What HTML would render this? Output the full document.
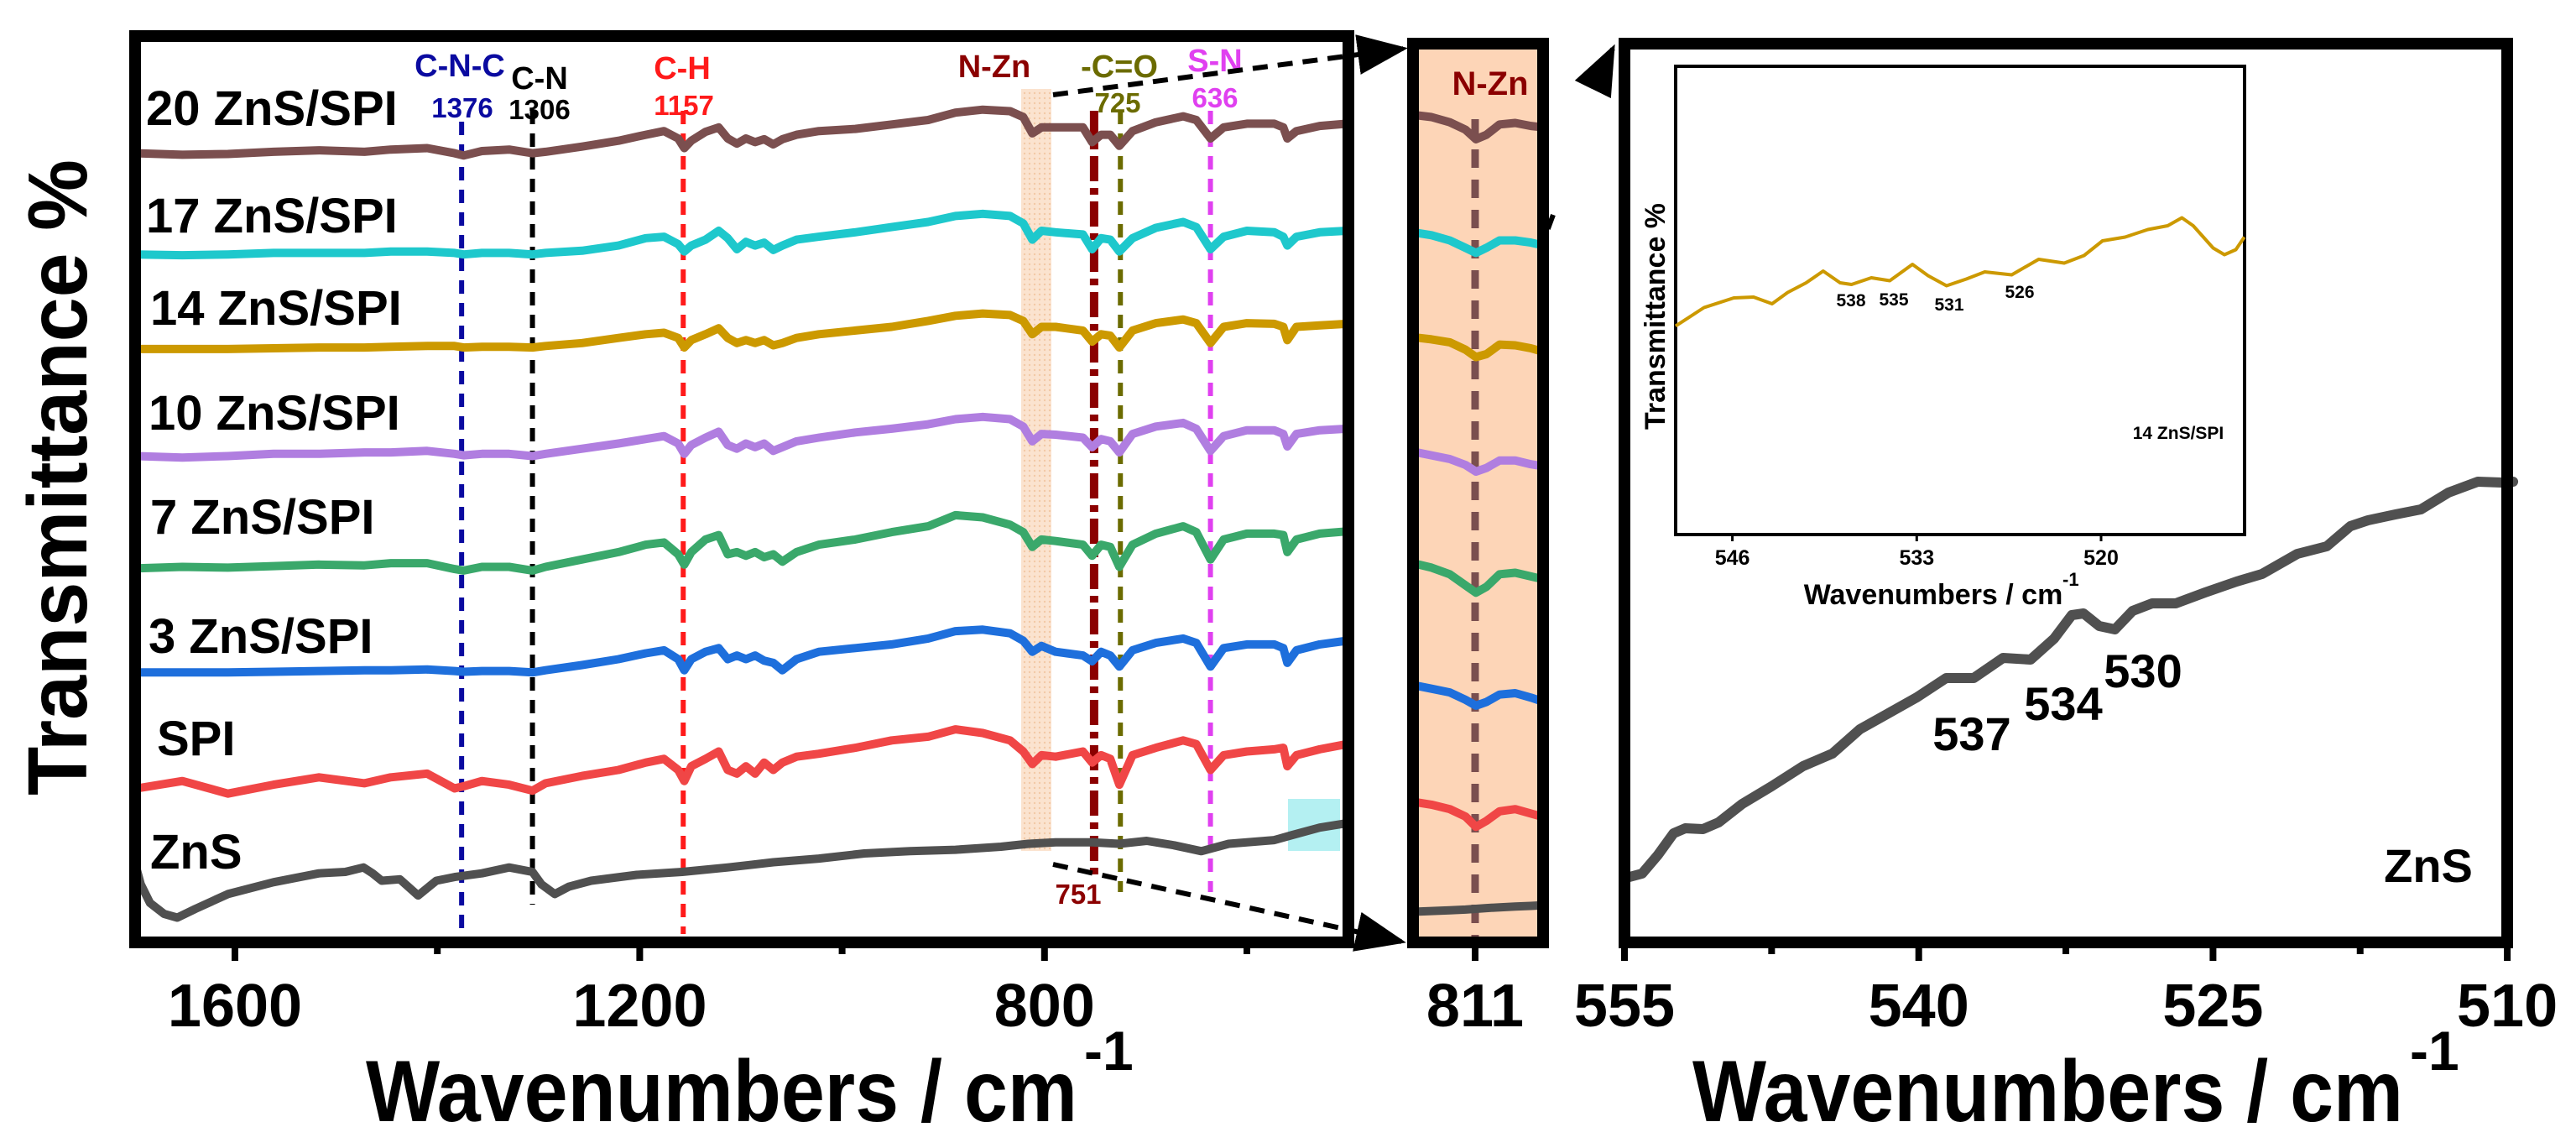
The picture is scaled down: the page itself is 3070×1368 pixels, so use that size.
<!DOCTYPE html>
<html><head><meta charset="utf-8"><style>
html,body{margin:0;padding:0;background:#fff;}
svg{display:block;font-family:"Liberation Sans",Arial,sans-serif;font-weight:bold;}
</style></head><body>
<svg id="fig" width="3070" height="1368" viewBox="0 0 3070 1368" xmlns="http://www.w3.org/2000/svg">
<defs>
<pattern id="dots" width="6" height="6" patternUnits="userSpaceOnUse"><rect width="6" height="6" fill="#fbe3cf"/><circle cx="3" cy="3" r="1.2" fill="#f3c9a6"/></pattern>
<marker id="arr" markerWidth="10" markerHeight="8" refX="9" refY="4" orient="auto" markerUnits="strokeWidth"><path d="M0,0 L10,4 L0,8 z" fill="#000"/></marker>
</defs>
<g id="main">
<rect x="1217" y="106" width="36" height="908" fill="url(#dots)"/>
<rect x="1535" y="952" width="62" height="62" fill="#b4f0f2"/>
<g id="markers"></g>
<g id="mainSeries"></g>
<rect x="161" y="43" width="1446" height="1080" fill="none" stroke="#000" stroke-width="14"/>
<g id="mainTicks"></g>
<text x="548" y="91" font-size="38" fill="#0a0aa0" text-anchor="middle">C-N-C</text>
<text x="551" y="140" font-size="33" fill="#0a0aa0" text-anchor="middle">1376</text>
<text x="643" y="106" font-size="38" fill="#000" text-anchor="middle">C-N</text>
<text x="643" y="142" font-size="33" fill="#000" text-anchor="middle">1306</text>
<text x="813" y="94" font-size="38" fill="#ff1a1a" text-anchor="middle">C-H</text>
<text x="815" y="137" font-size="33" fill="#ff1a1a" text-anchor="middle">1157</text>
<text x="1185" y="92" font-size="38" fill="#8b0000" text-anchor="middle">N-Zn</text>
<text x="1334" y="92" font-size="38" fill="#6b6b00" text-anchor="middle">-C=O</text>
<text x="1332" y="134" font-size="33" fill="#6b6b00" text-anchor="middle">725</text>
<text x="1448" y="85" font-size="38" fill="#e040f0" text-anchor="middle">S-N</text>
<text x="1448" y="128" font-size="33" fill="#e040f0" text-anchor="middle">636</text>
<text x="1285" y="1077" font-size="33" fill="#8b0000" text-anchor="middle">751</text>
<g font-size="58" fill="#000">
<text x="174" y="149">20 ZnS/SPI</text>
<text x="174" y="277">17 ZnS/SPI</text>
<text x="179" y="387">14 ZnS/SPI</text>
<text x="177" y="512">10 ZnS/SPI</text>
<text x="179" y="636">7 ZnS/SPI</text>
<text x="177" y="778">3 ZnS/SPI</text>
<text x="187" y="900">SPI</text>
<text x="179" y="1035">ZnS</text>
</g>
<text x="436" y="1336" font-size="104" textLength="848" lengthAdjust="spacingAndGlyphs">Wavenumbers / cm</text>
<text x="1292" y="1275" font-size="66">-1</text>
<text transform="translate(103,569) rotate(-90)" font-size="100" text-anchor="middle" textLength="758" lengthAdjust="spacingAndGlyphs">Transmittance %</text>
</g>
<g stroke="#000" stroke-width="6" stroke-dasharray="18,12" fill="none">
<line x1="1255" y1="113" x2="1672" y2="58" marker-end="url(#arr)"/>
<line x1="1255" y1="1030" x2="1670" y2="1122" marker-end="url(#arr)"/>
<line x1="1851" y1="256" x2="1691" y2="690"/>
</g>
<line x1="1900" y1="103" x2="1922" y2="58" stroke="#000" stroke-width="6" marker-end="url(#arr)"/>
<g id="mid">
<rect x="1684" y="52" width="155" height="1071" fill="#fdd5b7"/>
<line x1="1758" y1="142" x2="1758" y2="1118" stroke="#7a4f4f" stroke-width="9" stroke-dasharray="22,14"/>
<g id="midSeries"></g>
<rect x="1684" y="52" width="155" height="1071" fill="none" stroke="#000" stroke-width="14"/>
<text x="1776" y="113" font-size="40" fill="#8b0000" text-anchor="middle">N-Zn</text>
<line x1="1758" y1="1130" x2="1758" y2="1145" stroke="#000" stroke-width="8"/>
<text x="1758" y="1223" font-size="72" text-anchor="middle">811</text>
</g>
<g id="right">
<g id="rightSeries"></g>
<rect x="1936" y="52" width="1052" height="1071" fill="none" stroke="#000" stroke-width="14"/>
<g id="rightTicks"></g>
<text x="2350" y="894" font-size="56" text-anchor="middle">537</text>
<text x="2459" y="858" font-size="56" text-anchor="middle">534</text>
<text x="2554" y="819" font-size="56" text-anchor="middle">530</text>
<text x="2894" y="1051" font-size="56" text-anchor="middle">ZnS</text>
<text x="2017" y="1336" font-size="104" textLength="847" lengthAdjust="spacingAndGlyphs">Wavenumbers / cm</text>
<text x="2872" y="1275" font-size="66">-1</text>
<g id="inset">
<rect x="1997" y="79" width="678" height="558" fill="#fff" stroke="#000" stroke-width="4"/>
<g id="insetSeries"></g>
<g id="insetTicks"></g>
<text x="2206" y="365" font-size="21" text-anchor="middle">538</text>
<text x="2257" y="364" font-size="21" text-anchor="middle">535</text>
<text x="2323" y="370" font-size="21" text-anchor="middle">531</text>
<text x="2407" y="355" font-size="21" text-anchor="middle">526</text>
<text x="2596" y="523" font-size="21" text-anchor="middle">14 ZnS/SPI</text>
<text x="2304" y="720" font-size="34" text-anchor="middle">Wavenumbers / cm</text>
<text x="2458" y="698" font-size="22">-1</text>
<text transform="translate(1984,377) rotate(-90)" font-size="34" text-anchor="middle" textLength="270" lengthAdjust="spacingAndGlyphs">Transmittance %</text>
</g>
</g>
</svg>
<script>
const mainWn=[1697,1652,1607,1562,1517,1472,1446,1410,1383,1374,1356,1329,1306,1293,1257,1221,1194,1176,1162,1156,1149,1135,1122,1113,1104,1095,1086,1077,1068,1059,1045,1023,987,951,915,888,861,834,821,812,803,789,762,753,744,735,726,713,690,663,650,636,623,600,573,564,560,551,528,501];
const t20=[107.7,107.5,107.6,107.9,108.1,107.9,108.2,108.4,107.7,107.4,108.0,108.2,107.7,107.9,108.6,109.4,110.2,110.7,109.7,108.4,109.4,110.6,111.2,109.7,109.0,109.7,109.2,109.6,108.9,109.6,110.2,110.7,111.0,111.6,112.2,113.2,113.6,113.4,112.6,110.4,111.2,111.2,111.2,109.2,110.2,110.2,108.7,110.7,111.9,112.7,112.2,109.7,111.2,111.7,111.7,111.2,109.7,110.7,111.4,111.7];
const t17=[94.0,93.9,94.0,94.2,94.2,94.2,94.4,94.4,94.2,94.0,94.2,94.2,94.0,94.2,94.5,95.2,96.2,96.4,95.4,94.4,95.2,96.0,97.2,96.2,94.7,95.7,95.2,95.6,94.6,95.2,96.0,96.4,97.0,97.7,98.4,99.2,99.5,99.2,98.2,96.0,97.2,97.0,96.7,94.7,96.2,96.0,94.4,96.2,97.6,98.4,97.7,94.7,96.4,97.2,97.0,96.4,95.2,96.4,97.0,97.2];
const t14=[81.2,81.2,81.2,81.3,81.4,81.4,81.5,81.6,81.6,81.4,81.5,81.5,81.4,81.6,82.0,82.7,83.2,83.4,82.7,81.4,82.4,83.2,84.0,82.7,82.0,82.4,82.0,82.4,81.7,82.0,82.7,83.2,83.7,84.2,85.0,85.7,86.0,85.8,85.0,83.2,84.2,84.2,83.7,82.2,83.2,83.0,81.4,83.7,84.7,85.2,84.7,82.0,84.2,84.7,84.6,84.2,82.4,84.2,84.4,84.6];
const t10=[66.7,66.5,66.7,67.0,67.0,67.2,67.2,67.4,67.0,66.8,67.0,67.0,66.7,67.0,67.7,68.4,69.0,69.4,68.4,67.0,68.2,69.2,70.0,68.2,67.7,68.4,67.9,68.4,67.4,67.9,68.7,69.2,69.9,70.4,71.0,71.7,72.0,71.7,70.7,68.7,69.7,69.6,69.2,67.9,69.0,68.7,67.2,69.7,70.7,71.2,70.4,67.4,69.4,70.2,70.2,69.7,68.0,69.7,70.2,70.4];
const t7=[51.5,51.7,51.6,51.8,52.0,51.9,52.2,52.2,51.4,51.2,51.7,51.7,51.2,51.7,52.7,53.7,54.7,55.0,53.4,52.0,53.7,55.4,56.0,53.4,53.7,53.2,53.7,53.0,53.4,52.4,53.7,54.7,55.4,56.4,57.2,58.7,58.4,57.4,56.4,54.4,55.4,55.2,54.7,53.2,54.7,54.4,51.7,54.7,56.2,57.2,56.4,52.7,55.4,56.2,56.2,56.0,53.7,55.4,56.2,56.5];
const t3=[37.4,37.4,37.4,37.5,37.6,37.7,37.7,37.8,37.6,37.5,37.6,37.6,37.4,37.7,38.4,39.2,40.0,40.4,39.2,37.7,39.2,40.2,40.7,39.2,39.7,39.2,39.7,39.0,38.7,37.7,39.2,40.2,40.7,41.2,42.0,43.0,43.2,42.7,41.7,40.2,41.0,40.2,39.7,38.9,40.2,39.7,38.2,40.4,41.4,42.0,41.4,38.2,40.7,41.2,41.2,40.7,38.7,40.4,41.2,41.7];
const tSPI=[21.7,22.7,21.0,22.2,23.2,22.4,23.2,23.7,21.7,22.0,22.7,22.2,21.4,22.4,23.4,24.2,25.2,25.7,24.2,22.7,24.7,25.7,26.7,24.2,23.7,24.7,23.7,25.2,24.2,25.2,26.0,26.4,27.2,28.2,28.7,29.7,29.2,28.2,26.7,25.0,26.2,26.0,26.7,25.2,26.2,25.7,22.2,26.2,27.2,28.2,27.7,24.2,26.2,26.7,27.0,27.2,24.7,26.2,27.0,27.7];
const znsWn=[1699,1693,1684,1670,1657,1639,1607,1562,1517,1491,1473,1464,1455,1437,1419,1401,1383,1356,1329,1306,1297,1284,1270,1248,1203,1158,1113,1068,1023,978,933,888,843,816,789,753,726,699,672,645,618,573,555,528,501];
const tZnS=[11.7,8.7,6.2,4.7,4.2,5.4,7.4,9.0,10.2,10.4,11.0,10.2,9.2,9.4,7.2,9.2,9.7,10.2,11.0,10.4,8.7,7.4,8.4,9.2,10.0,10.4,11.0,11.7,12.2,12.9,13.2,13.4,13.8,14.2,14.4,14.4,14.2,14.6,14.0,13.2,14.2,14.7,15.4,16.4,17.0];
const markerWn=[1376,1306,1157,751,725,636];
const mainTickVals=[1600,1200,800];
const mainMinorVals=[1400,1000,600];
const midWn=[835,828,821,815,811,807,802,796,790,785];
const m20=[112.9,112.6,111.9,110.9,109.6,110.2,111.6,111.8,111.4,111.2];
const m17=[97.0,96.6,95.9,94.9,94.2,94.9,95.9,95.9,95.6,95.2];
const m14=[82.8,82.5,82.1,81.1,80.1,80.5,81.8,81.7,81.3,80.8];
const m10=[67.3,66.8,66.3,65.5,64.6,65.1,66.1,66.1,65.6,65.3];
const m7=[52.2,51.6,50.7,49.2,48.2,49.0,50.7,50.9,50.4,50.0];
const m3=[35.7,35.2,34.7,33.7,32.9,33.4,34.4,34.6,34.0,33.4];
const mSPI=[19.9,19.5,18.9,17.9,16.5,17.3,18.6,18.9,18.3,17.8];
const mZnS=[5.0,5.1,5.2,5.3,5.4,5.5,5.6,5.7,5.8,5.9];
const rightWn=[554.9,554.1,553.3,552.5,551.9,551.0,550.2,549.0,547.5,545.9,544.4,543.0,541.7,540.1,538.6,537.2,535.7,534.3,533.1,532.2,531.6,530.8,530.0,529.1,528.1,526.9,525.4,523.8,522.5,520.7,519.2,518.0,517.1,515.7,514.4,513.0,511.5,510.3,509.7];
const rightT=[8.4,8.9,11.1,13.7,14.3,14.2,15.0,17.2,19.3,21.7,23.2,26.1,27.8,29.9,32.2,32.2,34.6,34.4,36.9,39.7,39.9,38.4,38.0,40.2,41.1,41.1,42.4,43.7,44.6,47.0,47.9,50.3,51.0,51.7,52.3,54.3,55.6,55.5,55.6];
const rightTickVals=[555,540,525,510];
const rightMinorVals=[547.5,532.5,517.5];
const insetWn=[550.0,548.0,545.9,544.5,543.2,542.1,540.8,539.6,538.4,537.6,536.2,534.9,533.3,532.2,530.9,529.5,528.2,526.3,524.4,522.6,521.2,519.9,518.3,516.7,515.3,514.3,513.5,512.1,511.3,510.5,509.9];
const insetT=[49.7,54.1,56.4,56.6,55.0,57.7,60.0,62.8,60.0,59.6,61.2,60.5,64.4,61.7,59.3,60.9,62.6,61.9,65.6,64.7,66.5,70.0,70.9,72.7,73.6,75.5,73.6,68.3,66.7,67.9,70.9];
const insetTickVals=[546,533,520];

const NS='http://www.w3.org/2000/svg';
const xMain=w=>280+(1600-w)*1.206;
const yMain=t=>1130.5-t*8.801;
const xMid=w=>1759-(w-811)*3.12;
const xR=w=>1936+(555-w)*23.38;
const yR=t=>1130-t*10;
const xI=w=>1997+(550-w)*16.9;
const yI=t=>637-t*5;
function mk(tag,parent){const e=document.createElementNS(NS,tag);parent.appendChild(e);return e;}
function pathD(xs,ys,fx,fy){return xs.map((w,i)=>(i?'L':'M')+fx(w).toFixed(1)+','+fy(ys[i]).toFixed(1)).join(' ');}

const seriesList=[[t20,m20,'#7b4f4f','20-zns-spi'],[t17,m17,'#1ec8cc','17-zns-spi'],[t14,m14,'#cc9900','14-zns-spi'],[t10,m10,'#b07ee0','10-zns-spi'],[t7,m7,'#3aa86b','7-zns-spi'],[t3,m3,'#1e6fdc','3-zns-spi'],[tSPI,mSPI,'#f04646','spi']];

const mg=document.getElementById('markers');
const mStyle=[['#0a0aa0',145,1115,'16,11',6],['#000',132,1078,'16,11',6],['#ff1a1a',132,1113,'16,11',6],['#8b0000',132,1049,'30,8,8,8',10],['#6b6b00',132,1063,'16,11',6],['#e040f0',132,1063,'16,11',6]];
markerWn.forEach((w,i)=>{const s=mStyle[i];const l=mk('line',mg);


l.setAttribute('x1',xMain(w));l.setAttribute('x2',xMain(w));l.setAttribute('y1',s[1]);l.setAttribute('y2',s[2]);
l.setAttribute('stroke',s[0]);l.setAttribute('stroke-width',s[4]);l.setAttribute('stroke-dasharray',s[3]);});

const ms=document.getElementById('mainSeries');
const zp=mk('path',ms);


zp.setAttribute('d',pathD(znsWn,tZnS,xMain,yMain));zp.setAttribute('fill','none');zp.setAttribute('stroke','#505050');zp.setAttribute('stroke-width','10');zp.setAttribute('stroke-linejoin','round');zp.setAttribute('stroke-linecap','round');
seriesList.forEach(s=>{const p=mk('path',ms);


p.setAttribute('d',pathD(mainWn,s[0],xMain,yMain));p.setAttribute('fill','none');p.setAttribute('stroke',s[2]);p.setAttribute('stroke-width','10');p.setAttribute('stroke-linejoin','round');});

const mt=document.getElementById('mainTicks');
mainTickVals.forEach(v=>{const l=mk('line',mt);


l.setAttribute('x1',xMain(v));l.setAttribute('x2',xMain(v));l.setAttribute('y1',1128);l.setAttribute('y2',1145);l.setAttribute('stroke','#000');l.setAttribute('stroke-width',8);
const t=mk('text',mt);


t.setAttribute('x',xMain(v));t.setAttribute('y',1223);t.setAttribute('font-size',72);t.setAttribute('text-anchor','middle');t.textContent=v;});
mainMinorVals.forEach(v=>{const l=mk('line',mt);


l.setAttribute('x1',xMain(v));l.setAttribute('x2',xMain(v));l.setAttribute('y1',1128);l.setAttribute('y2',1137);l.setAttribute('stroke','#000');l.setAttribute('stroke-width',8);});

const mds=document.getElementById('midSeries');
seriesList.concat([[null,mZnS,'#505050','zns']]).forEach(s=>{const p=mk('path',mds);


p.setAttribute('d',pathD(midWn,s[1],xMid,yMain));p.setAttribute('fill','none');p.setAttribute('stroke',s[2]);p.setAttribute('stroke-width','10');p.setAttribute('stroke-linejoin','round');});

const rs=document.getElementById('rightSeries');
const rp=mk('path',rs);


rp.setAttribute('d',pathD(rightWn,rightT,xR,yR));rp.setAttribute('fill','none');rp.setAttribute('stroke','#505050');rp.setAttribute('stroke-width','12');rp.setAttribute('stroke-linejoin','round');rp.setAttribute('stroke-linecap','round');
const rt=document.getElementById('rightTicks');
rightTickVals.forEach(v=>{const l=mk('line',rt);


l.setAttribute('x1',xR(v));l.setAttribute('x2',xR(v));l.setAttribute('y1',1128);l.setAttribute('y2',1145);l.setAttribute('stroke','#000');l.setAttribute('stroke-width',8);
const t=mk('text',rt);


t.setAttribute('x',xR(v));t.setAttribute('y',1223);t.setAttribute('font-size',72);t.setAttribute('text-anchor','middle');t.textContent=v;});
rightMinorVals.forEach(v=>{const l=mk('line',rt);


l.setAttribute('x1',xR(v));l.setAttribute('x2',xR(v));l.setAttribute('y1',1128);l.setAttribute('y2',1137);l.setAttribute('stroke','#000');l.setAttribute('stroke-width',8);});

const is=document.getElementById('insetSeries');
const ip=mk('path',is);


ip.setAttribute('d',pathD(insetWn,insetT,xI,yI));ip.setAttribute('fill','none');ip.setAttribute('stroke','#cc9900');ip.setAttribute('stroke-width','4');ip.setAttribute('stroke-linejoin','round');
const it=document.getElementById('insetTicks');
insetTickVals.forEach(v=>{const l=mk('line',it);


l.setAttribute('x1',xI(v));l.setAttribute('x2',xI(v));l.setAttribute('y1',637);l.setAttribute('y2',645);l.setAttribute('stroke','#000');l.setAttribute('stroke-width',3);
const t=mk('text',it);


t.setAttribute('x',xI(v));t.setAttribute('y',673);t.setAttribute('font-size',25);t.setAttribute('text-anchor','middle');t.textContent=v;});
</script>
</body></html>
